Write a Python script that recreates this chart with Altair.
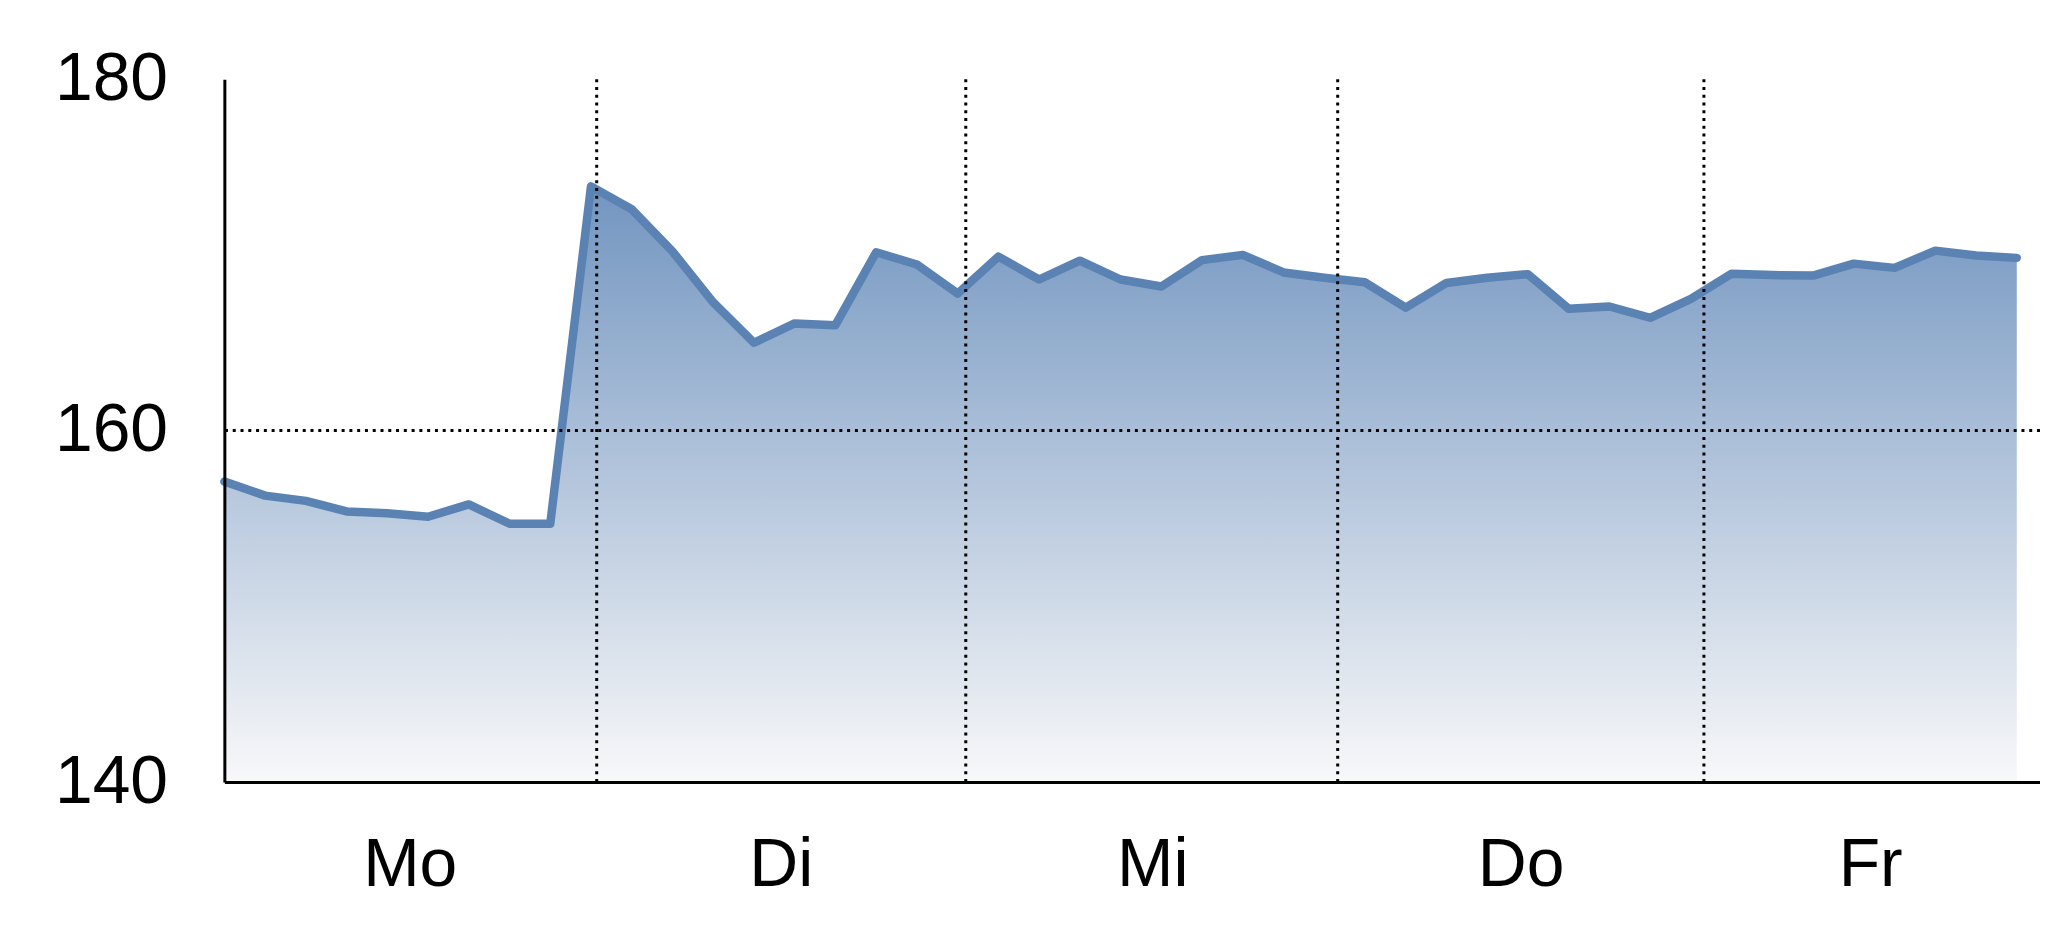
import altair as alt
import pandas as pd

# --- data ---
day_names = ["Mo", "Di", "Mi", "Do", "Fr"]
day_boundaries = [9.14, 18.20, 27.33, 36.32]          # vertical dotted separators (index units)
day_label_pos = [4.55, 13.66, 22.78, 31.82, 40.4]     # centre of each day label (index units)
values = [
    157.1, 156.3, 156.0, 155.4, 155.3, 155.1, 155.8, 154.7, 154.7,       # Mo
    173.9, 172.6, 170.2, 167.3, 165.0, 166.1, 166.0, 170.15, 169.45,     # Di
    167.8, 169.9, 168.6, 169.67, 168.6, 168.2, 169.7, 170.0, 169.0,      # Mi
    168.7, 168.44, 167.0, 168.4, 168.7, 168.9, 166.93, 167.06, 166.42,   # Do
    167.5, 168.93, 168.85, 168.82, 169.5, 169.26, 170.24, 169.96, 169.83 # Fr
]
y_ticks = [140, 160, 180]
h_grid = [160]
x_max = 44.57

df = pd.DataFrame({"i": list(range(len(values))), "v": values})
vgrid = pd.DataFrame({"b": day_boundaries})
hgrid = pd.DataFrame({"g": h_grid})

FONT = "Liberation Sans Narrow, Arial Narrow, Liberation Sans, Arial, sans-serif"

label_expr = ""
for b, name in zip(day_boundaries, day_names[:-1]):
    label_expr += f"datum.value < {b} ? '{name}' : "
label_expr += f"'{day_names[-1]}'"

x_scale = alt.Scale(domain=[0, x_max], nice=False, zero=False)
y_scale = alt.Scale(domain=[y_ticks[0], y_ticks[-1]], nice=False, zero=False)

x_axis = alt.Axis(
    values=day_label_pos, labelExpr=label_expr, title=None, grid=False, ticks=False,
    domainColor="black", domainWidth=3, labelFont=FONT, labelFontSize=68,
    labelColor="black", labelBaseline="alphabetic", labelPadding=104,
    labelAlign="center", labelFlush=False, labelOverlap=False, zindex=2,
)
y_axis = alt.Axis(
    values=y_ticks, title=None, grid=False, ticks=False, domainColor="black",
    domainWidth=3, labelFont=FONT, labelFontSize=68, labelColor="black",
    labelPadding=57, labelBaseline="middle", labelFlush=False, zindex=2,
)

area = alt.Chart(df).mark_area(
    line=False,
    color=alt.Gradient(
        gradient="linear",
        stops=[alt.GradientStop(color="#7295c0", offset=0),
               alt.GradientStop(color="#f8f8f9", offset=1)],
        x1=0, x2=0, y1=0, y2=1,
    ),
).encode(
    x=alt.X("i:Q", scale=x_scale, axis=x_axis),
    y=alt.Y("v:Q", scale=y_scale, axis=y_axis),
    y2=alt.datum(y_ticks[0]),
)

line = alt.Chart(df).mark_line(
    color="#5a82b3", strokeWidth=8.5, strokeCap="round", strokeJoin="round"
).encode(
    x=alt.X("i:Q", scale=x_scale),
    y=alt.Y("v:Q", scale=y_scale),
)

vrules = alt.Chart(vgrid).mark_rule(
    color="black", strokeWidth=3, strokeDash=[3, 4.8]
).encode(x=alt.X("b:Q", scale=x_scale))

hrules = alt.Chart(hgrid).mark_rule(
    color="black", strokeWidth=3, strokeDash=[3, 4.8]
).encode(y=alt.Y("g:Q", scale=y_scale))

chart = alt.layer(area, line, vrules, hrules).properties(
    width=1821, height=705,
    autosize=alt.AutoSizeParams(type="none"),
    padding={"left": 217, "top": 70, "right": 0, "bottom": 140},
    background="white",
).configure_view(stroke=None)

chart.save("out.html", embed_options={"renderer": "svg", "actions": False})
